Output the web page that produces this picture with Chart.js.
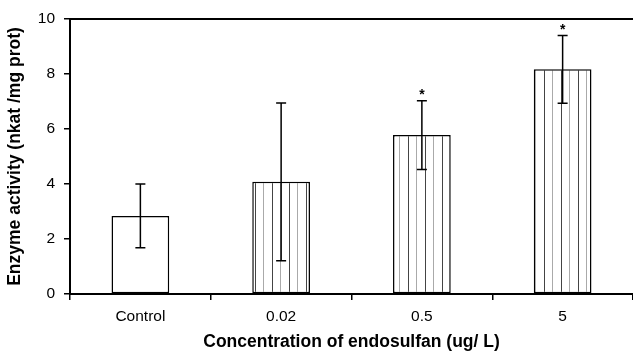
<!DOCTYPE html>
<html>
<head>
<meta charset="utf-8">
<script src="https://cdn.jsdelivr.net/npm/chart.js@4.4.1/dist/chart.umd.min.js"></script>
<style>
  html, body { margin: 0; padding: 0; background: #fff; }
  #wrap { width: 633px; height: 353px; }
</style>
</head>
<body>
<div id="wrap"><canvas id="enzymeChart" width="633" height="353"></canvas></div>
<script>
// data
const categories = ['Control', '0.02', '0.5', '5'];
const activity = [2.84, 4.08, 5.78, 8.17];
const errors = [1.16, 2.87, 1.25, 1.23];
const significant = [false, false, true, true];
const yTicks = [0, 2, 4, 6, 8, 10];

const FONT = 'Arial, "Liberation Sans", Helvetica, sans-serif';

// vertical line hatch, alternating dark / grey lines
function makeHatch() {
    const c = document.createElement('canvas');
    c.width = 17;
    c.height = 10;
    const g = c.getContext('2d');
    g.fillStyle = '#fff';
    g.fillRect(0, 0, c.width, c.height);
    g.fillStyle = '#444';
    g.fillRect(0, 0, 1, c.height);
    g.fillStyle = '#aaa';
    g.fillRect(8, 0, 1, c.height);
    return g.createPattern(c, 'repeat');
}

const hatch = makeHatch();

// error bars, stars and the top frame line
const errorBarPlugin = {
    id: 'errorBars',
    afterDatasetsDraw(chart) {
        const { ctx, chartArea } = chart;
        const yScale = chart.scales.y;
        const meta = chart.getDatasetMeta(0);
        ctx.save();
        ctx.strokeStyle = '#000';
        ctx.lineWidth = 1.5;
        meta.data.forEach((bar, i) => {
            const x = bar.x;
            const hi = yScale.getPixelForValue(activity[i] + errors[i]);
            const lo = yScale.getPixelForValue(activity[i] - errors[i]);
            const cap = 5;
            ctx.beginPath();
            ctx.moveTo(x, hi);
            ctx.lineTo(x, lo);
            ctx.moveTo(x - cap, hi);
            ctx.lineTo(x + cap, hi);
            ctx.moveTo(x - cap, lo);
            ctx.lineTo(x + cap, lo);
            ctx.stroke();
            if (significant[i]) {
                ctx.fillStyle = '#000';
                ctx.font = 'bold 14px ' + FONT;
                ctx.textAlign = 'center';
                ctx.textBaseline = 'alphabetic';
                ctx.fillText('*', x, hi - 2);
            }
        });
        // top border of the frame
        ctx.lineWidth = 2;
        ctx.beginPath();
        ctx.moveTo(chartArea.left, chartArea.top);
        ctx.lineTo(chartArea.right, chartArea.top);
        ctx.stroke();
        ctx.restore();
    }
};

const ctx = document.getElementById('enzymeChart').getContext('2d');

new Chart(ctx, {
    type: 'bar',
    data: {
        labels: categories,
        datasets: [{
            data: activity,
            backgroundColor: categories.map((c, i) => i === 0 ? '#fff' : hatch),
            borderColor: '#000',
            borderWidth: 1.5,
            borderSkipped: false,
            barPercentage: 0.41,
            categoryPercentage: 1.0
        }]
    },
    options: {
        responsive: false,
        animation: false,
        devicePixelRatio: 1,
        layout: { padding: { top: 19, right: 0, left: 0, bottom: 0 } },
        plugins: {
            legend: { display: false },
            tooltip: { enabled: false }
        },
        scales: {
            x: {
                offset: true,
                grid: {
                    offset: true,
                    drawOnChartArea: false,
                    drawTicks: true,
                    tickLength: 6,
                    color: '#000',
                    lineWidth: 1.5
                },
                border: { display: true, color: '#000', width: 2 },
                ticks: {
                    color: '#000',
                    padding: 7,
                    font: { family: FONT, size: 15.5 }
                },
                title: {
                    display: true,
                    text: 'Concentration of endosulfan (ug/ L)',
                    color: '#000',
                    font: { family: FONT, size: 17.5, weight: 'bold' },
                    padding: { top: 0, bottom: 0 }
                },
                afterFit(scale) { scale.height = 59; }
            },
            y: {
                min: 0,
                max: 10,
                afterBuildTicks(scale) {
                    scale.ticks = yTicks.map(v => ({ value: v }));
                },
                grid: {
                    drawOnChartArea: false,
                    drawTicks: true,
                    tickLength: 6,
                    color: '#000',
                    lineWidth: 1.5
                },
                border: { display: true, color: '#000', width: 2 },
                ticks: {
                    color: '#000',
                    padding: 9,
                    font: { family: FONT, size: 15.5 }
                },
                title: {
                    display: true,
                    text: 'Enzyme activity (nkat /mg prot)',
                    color: '#000',
                    font: { family: FONT, size: 17.5, weight: 'bold' },
                    padding: { top: 5, bottom: 0 }
                },
                afterFit(scale) { scale.width = 70; }
            }
        }
    },
    plugins: [errorBarPlugin]
});
</script>
</body>
</html>
